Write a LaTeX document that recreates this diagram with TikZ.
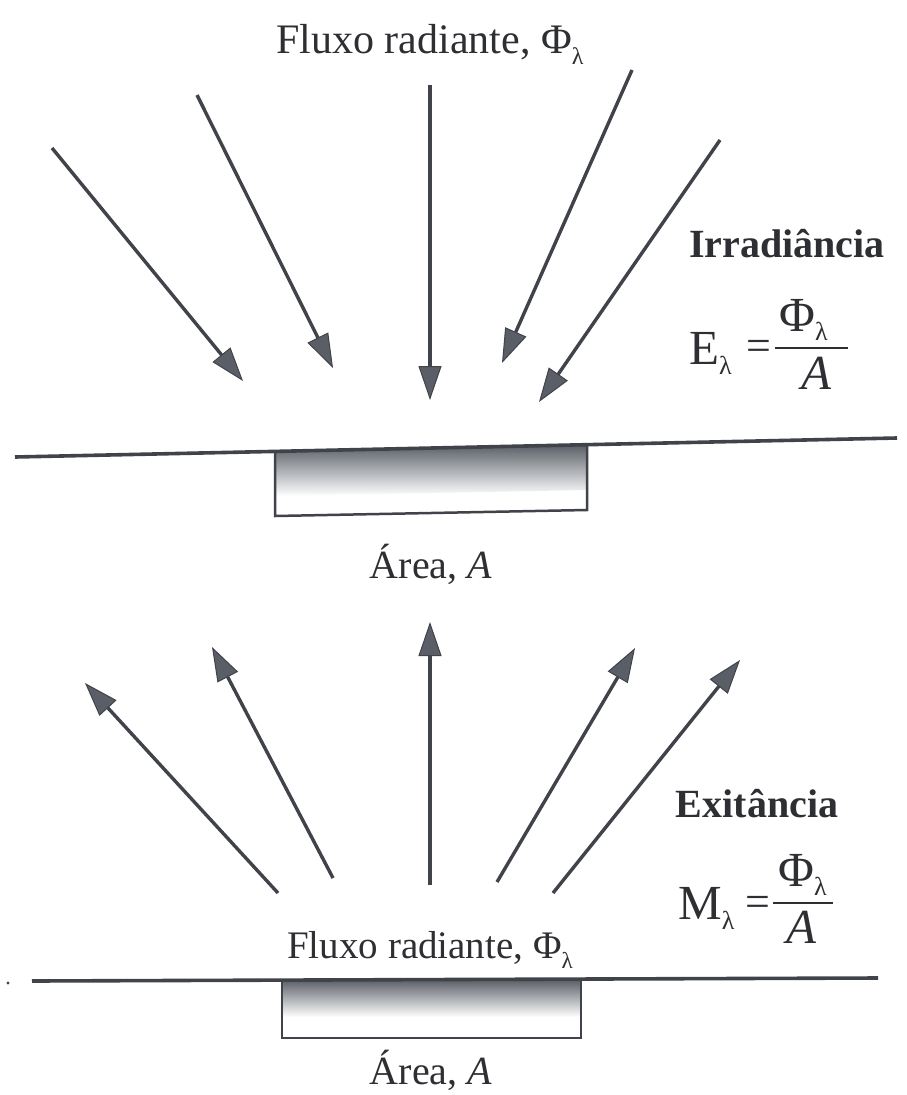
\documentclass[tikz,border=0pt]{standalone}
\usepackage{fontspec}
\setmainfont{Liberation Serif}
\usetikzlibrary{arrows.meta}
\definecolor{ln}{HTML}{404349}
\definecolor{hd}{HTML}{5A5E66}
\definecolor{tx}{HTML}{2E2F33}
\definecolor{sh}{HTML}{5A5F67}
\newcommand{\lamsub}[2]{\raisebox{-#2}{\fontsize{#1}{#1}\selectfont λ}}
\begin{document}
\begin{tikzpicture}[x=1pt,y=-1pt,
  ray/.style={draw=ln,line width=3.4pt,-{Triangle[length=34pt,width=23pt,fill=hd,line width=1pt]}},
  txt/.style={text=tx,inner sep=0pt,font=\fontsize{40}{44}\selectfont},
  head/.style={text=tx,inner sep=0pt,font=\fontsize{40}{44}\selectfont\bfseries},
  eq/.style={text=tx,inner sep=0pt,font=\fontsize{49}{52}\selectfont},
  bar/.style={draw=tx,line width=1.6pt},
  surf/.style={draw=ln,line width=3.6pt},
  boxline/.style={draw=ln,line width=2.5pt,line join=miter}]
\useasboundingbox[fill=white] (0,0) rectangle (907,1095);

% ---------- top: irradiance ----------
\node[txt,anchor=base,font=\fontsize{42}{46}\selectfont] (t1) at (430,53) {Fluxo radiante, Φ\lamsub{24}{11pt}};

\coordinate (a1s) at (52,148);  \coordinate (a1e) at (243,381);
\coordinate (a2s) at (197,95);  \coordinate (a2e) at (333,368);
\coordinate (a3s) at (430,85);  \coordinate (a3e) at (430,400);
\coordinate (a4s) at (632,70);  \coordinate (a4e) at (502,363);
\coordinate (a5s) at (720,140); \coordinate (a5e) at (539,402);
\foreach \i in {1,...,5} \draw[ray] (a\i s) -- (a\i e);

\node[head,anchor=base] (irr) at (787,257) {Irradiância};
\node[eq,anchor=base west] (e1l) at (689,364) {E\lamsub{26}{10pt}};
\node[eq,font=\fontsize{44}{48}\selectfont] (e1q) at (759,350) {=};
\coordinate (e1bl) at (775,348);
\coordinate (e1br) at (848,348);
\draw[bar] (e1bl) -- (e1br);
\node[eq,anchor=base west] (e1n) at (779,331) {Φ\lamsub{26}{9pt}};
\node[eq,anchor=base] (e1d) at (817,389) {\textit{A}};

% surface and area
\coordinate (s1L) at (15,457);
\coordinate (s1R) at (897,438);
\coordinate (b1tl) at (275,451.4);
\coordinate (b1tr) at (587,444.7);
\coordinate (b1bl) at (275,516);
\coordinate (b1br) at (587,510);
\shade[top color=sh,bottom color=white] (b1tl) -- (b1tr) -- (587,490) -- (275,496) -- cycle;
\draw[boxline] (b1tl) -- (b1bl) -- (b1br) -- (b1tr);
\draw[surf] (s1L) -- (s1R);
\node[txt,anchor=base] (area1) at (431,578) {Área, \textit{A}};

% ---------- bottom: exitance ----------
\coordinate (c1s) at (278,893); \coordinate (c1e) at (85,683);
\coordinate (c2s) at (333,878); \coordinate (c2e) at (212,647);
\coordinate (c3s) at (430,885); \coordinate (c3e) at (430,622);
\coordinate (c4s) at (497,882); \coordinate (c4e) at (635,648);
\coordinate (c5s) at (553,893); \coordinate (c5e) at (740,660);
\foreach \i in {1,...,5} \draw[ray] (c\i s) -- (c\i e);

\node[head,anchor=base] (exi) at (757,817) {Exitância};
\node[eq,anchor=base west] (e2l) at (678,919) {M\lamsub{26}{10pt}};
\node[eq,font=\fontsize{44}{48}\selectfont] (e2q) at (758,906) {=};
\coordinate (e2bl) at (773,903);
\coordinate (e2br) at (833,903);
\draw[bar] (e2bl) -- (e2br);
\node[eq,anchor=base west] (e2n) at (778,886) {Φ\lamsub{26}{9pt}};
\node[eq,anchor=base] (e2d) at (802,943) {\textit{A}};

\node[txt,anchor=base,font=\fontsize{39}{42}\selectfont] (t2) at (430,958) {Fluxo radiante, Φ\lamsub{23}{10pt}};

\coordinate (s2L) at (32,981);
\coordinate (s2R) at (878,978);
\coordinate (b2tl) at (282,980.5);
\coordinate (b2tr) at (581,979.5);
\coordinate (b2bl) at (282,1038);
\coordinate (b2br) at (581,1038);
\shade[top color=sh,bottom color=white] (b2tl) -- (b2tr) -- (581,1017) -- (282,1017) -- cycle;
\draw[boxline] (b2tl) -- (b2bl) -- (b2br) -- (b2tr);
\draw[surf] (s2L) -- (s2R);
\fill[ln] (8,983) circle (1.6);
\node[txt,anchor=base] (area2) at (431,1084) {Área, \textit{A}};
\end{tikzpicture}
\end{document}
